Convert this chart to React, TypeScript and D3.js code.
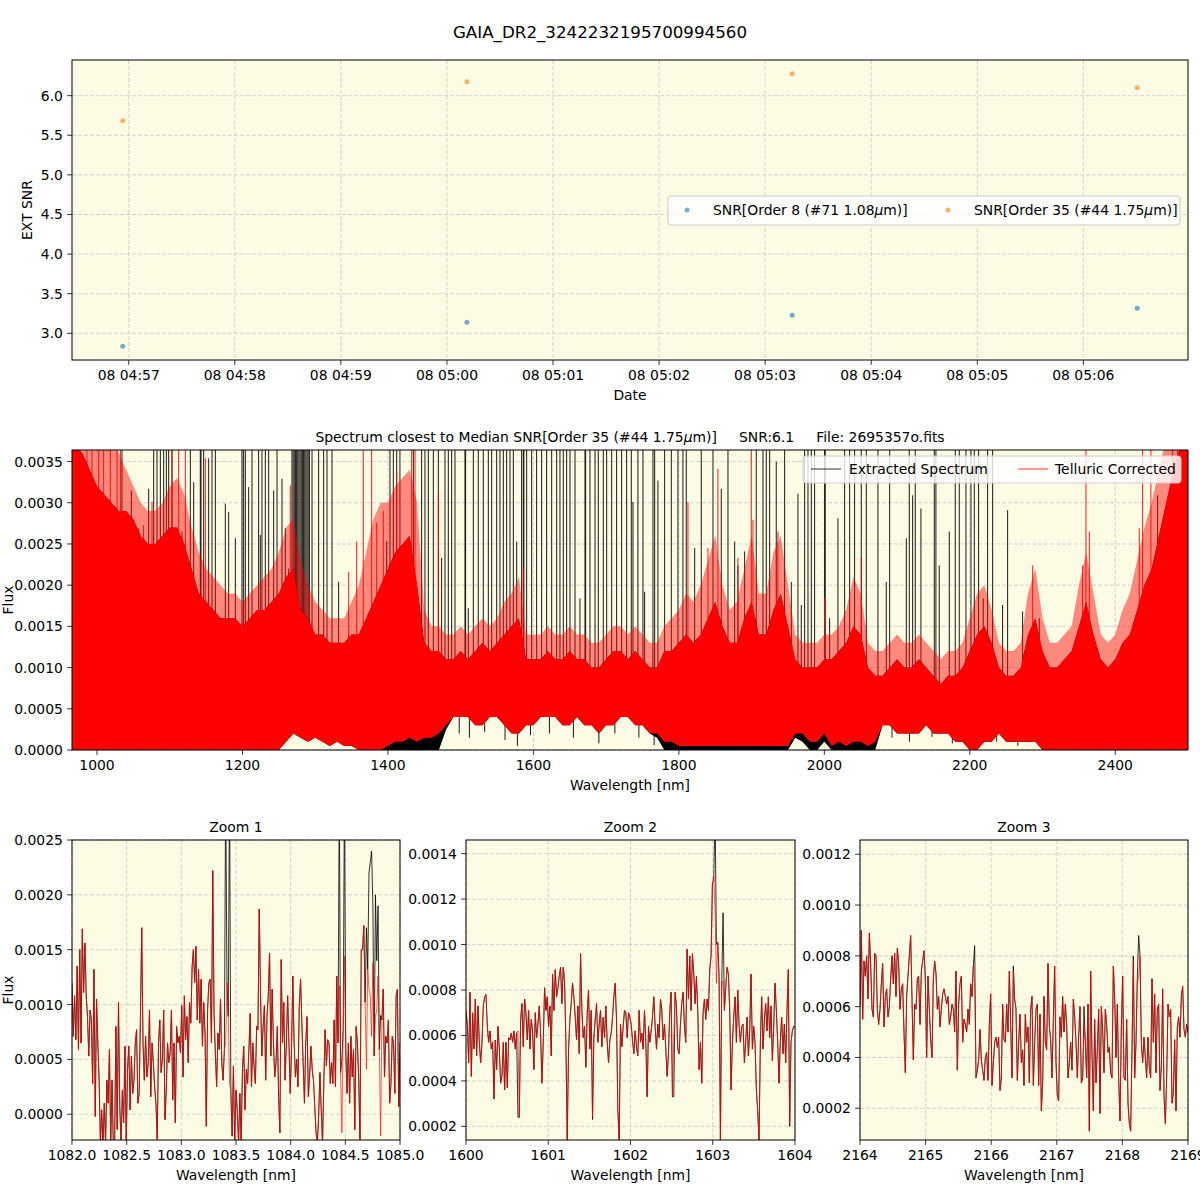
import React from "react";
import * as d3 from "d3";

const FONT = "'DejaVu Sans', sans-serif";
const AX_BG = "#fcfbe3";
const GRID = "#c9c9cf";
const FS = 13.9;

// ---------------- Top panel: SNR vs date ----------------
const obsTimes = [
  "2020-01-08T04:56:56.600Z",
  "2020-01-08T05:00:11.300Z",
  "2020-01-08T05:03:15.300Z",
  "2020-01-08T05:06:30.500Z",
];
const snrOrder8 = [2.835, 3.139, 3.228, 3.316];
const snrOrder35 = [5.684, 6.177, 6.278, 6.1];
const legendTop = ["SNR[Order 8 (#71 1.08", "SNR[Order 35 (#44 1.75"];

// ---------------- Middle panel: full spectrum (10 nm bins, flux x1e-4) ----------------
const specStart = 970;
const specStep = 10;
// solid top of the dense red band
const redTopE4 = [
  37, 36, 34, 32, 31, 30, 29, 29, 28, 26,
  25, 25, 26, 27, 27, 25, 22, 19, 18, 17,
  16, 16, 16, 15, 16, 17, 17, 18, 19, 21,
  22, 17, 16, 14, 14, 13, 13, 13, 14, 14,
  16, 18, 20, 22, 24, 25, 26, 20, 13, 12,
  12, 11, 11, 12, 11, 12, 13, 12, 13, 14,
  15, 16, 11, 11, 11, 12, 11, 11, 12, 11,
  11, 10, 10, 11, 12, 12, 11, 12, 11, 10,
  10, 12, 12, 13, 14, 13, 14, 16, 18, 15,
  13, 13, 16, 18, 14, 14, 17, 19, 15, 11,
  10, 10, 10, 11, 11, 12, 13, 15, 14, 10,
  9, 9, 10, 11, 10, 10, 11, 10, 9, 8,
  9, 9, 10, 12, 14, 15, 13, 10, 9, 9,
  10, 14, 16, 12, 10, 10, 11, 12, 15, 18,
  14, 11, 10, 11, 13, 14, 17, 20, 22, 26,
  30, 34, 37,
];
// top of the hairy red fringe above the solid band
const redFringeE4 = [
  40, 40, 40, 40, 40, 38, 36, 34, 32, 30,
  29, 29, 30, 32, 33, 31, 27, 24, 22, 21,
  20, 19, 19, 18, 19, 20, 21, 22, 24, 27,
  28, 23, 20, 18, 17, 16, 16, 16, 18, 20,
  24, 28, 30, 30, 32, 33, 34, 30, 17, 15,
  15, 14, 14, 15, 14, 15, 16, 15, 16, 18,
  19, 21, 14, 14, 14, 15, 14, 14, 15, 14,
  14, 13, 13, 14, 15, 15, 14, 15, 14, 13,
  13, 15, 16, 17, 19, 18, 20, 23, 26, 20,
  17, 18, 22, 26, 19, 19, 24, 26, 20, 14,
  13, 13, 13, 14, 14, 15, 17, 21, 19, 13,
  12, 12, 13, 14, 13, 13, 14, 13, 12, 11,
  12, 12, 13, 16, 19, 20, 17, 13, 12, 12,
  13, 19, 22, 16, 13, 13, 14, 15, 20, 24,
  19, 14, 13, 14, 17, 19, 23, 27, 30, 34,
  38, 40, 40,
];
const redBotE4 = [
  0, 0, 0, 0, 0, 0, 0, 0, 0, 0,
  0, 0, 0, 0, 0, 0, 0, 0, 0, 0,
  0, 0, 0, 0, 0, 0, 0, 0, 0, 1,
  2, 1.5, 1, 1.5, 1, 0.5, 1, 0.5, 0.5, 0,
  0, 0, 0, 0.5, 1, 1, 1.5, 1, 1.5, 1.5,
  2, 3, 4, 4, 4, 3, 3, 4, 4, 3,
  2, 2, 3, 3, 4, 4, 4, 3, 3, 4,
  3, 3, 2, 3, 3, 4, 4, 3, 3, 2,
  2, 1, 1, 0.5, 0.5, 0.5, 0.5, 0.5, 0.5, 0.5,
  0.5, 0.5, 0.5, 0.5, 0.5, 0.5, 0.5, 0.5, 0.5, 2,
  2, 1, 1, 2, 0.5, 1, 0.5, 1, 1, 0.5,
  1, 3, 3, 2, 2, 2, 2, 3, 2, 2,
  2, 1, 1, 0, 0, 1, 1, 2, 1, 1,
  1, 1, 1, 0, 0, 0, 0, 0, 0, 0,
  0, 0, 0, 0, 0, 0, 0, 0, 0, 0,
  0, 0, 0,
];
const blackBotE4 = [
  0, 0, 0, 0, 0, 0, 0, 0, 0, 0,
  0, 0, 0, 0, 0, 0, 0, 0, 0, 0,
  0, 0, 0, 0, 0, 0, 0, 0, 0, 1,
  2, 1.5, 1, 1.5, 1, 0.5, 1, 0.5, 0.5, 0,
  0, 0, 0, 0, 0, 0, 0, 0, 0, 0,
  0, 2.5, 4, 4, 4, 3, 3, 4, 4, 3,
  2, 2, 3, 3, 4, 4, 4, 3, 3, 4,
  3, 3, 2, 3, 3, 4, 4, 3, 3, 2,
  1.5, 0, 0, 0, 0, 0, 0, 0, 0, 0,
  0, 0, 0, 0, 0, 0, 0, 0, 0, 1.5,
  1, 0, 0, 1, 0, 0, 0, 0, 0, 0,
  0, 3, 3, 2, 2, 2, 2, 3, 2, 2,
  2, 1, 1, 0, 0, 1, 1, 2, 1, 1,
  1, 1, 1, 0, 0, 0, 0, 0, 0, 0,
  0, 0, 0, 0, 0, 0, 0, 0, 0, 0,
  0, 0, 0,
];
// isolated spikes [wavelength nm, flux x1e-4]
const blackSpikes: [number, number][] = [
  [995.4, 31.3], [1011.4, 29.3], [1034.3, 40], [1047.2, 31.5], [1057.3, 26.9], [1071.0, 31.7],
  [1077.9, 40], [1082.5, 40], [1087.1, 40], [1091.6, 40], [1095.3, 40], [1098.5, 40], [1103.1, 40],
  [1116.8, 26.5], [1128.3, 40], [1132.9, 32.5], [1142.0, 40], [1143.0, 40], [1146.6, 40], [1153.5, 35.4],
  [1158.1, 40], [1162.7, 40], [1176.4, 29.9], [1181.0, 28.9], [1190.2, 25.7], [1199.3, 40], [1201.6, 40],
  [1203.9, 40], [1208.5, 31.9], [1213.1, 40], [1222.2, 40], [1224.5, 26.1], [1226.8, 40], [1231.4, 40],
  [1236.0, 40], [1242.9, 31.5], [1247.5, 40], [1254.3, 32.9], [1258.9, 26.9], [1263.5, 22.0],
  [1295.6, 40], [1304.7, 40], [1311.6, 40], [1316.2, 40], [1323.1, 40], [1332.2, 20.4], [1346.0, 14.0],
  [1398.2, 25.3], [1402.8, 40], [1407.4, 40], [1412.0, 40], [1416.5, 40], [1421.1, 22.4], [1434.9, 40],
  [1446.3, 40], [1450.9, 40], [1455.5, 40], [1462.4, 40], [1469.3, 40], [1473.8, 23.3], [1478.4, 40],
  [1483.0, 40], [1487.6, 40], [1492.2, 40], [1505.9, 40], [1506.8, 40], [1510.5, 17.2], [1517.4, 40],
  [1524.2, 40], [1531.1, 40], [1538.0, 40], [1542.6, 40], [1549.5, 40], [1554.0, 40], [1558.6, 40],
  [1563.2, 40], [1567.8, 40], [1572.4, 40], [1577.0, 25.3], [1583.8, 40], [1586.1, 40], [1586.9, 40],
  [1590.7, 40], [1597.6, 40], [1604.4, 40], [1611.3, 40], [1618.2, 40], [1625.1, 40], [1632.0, 40],
  [1636.5, 40], [1641.1, 40], [1645.7, 40], [1650.3, 40], [1657.2, 40], [1664.0, 18.4], [1670.9, 40],
  [1671.8, 40], [1677.8, 40], [1684.7, 40], [1689.2, 40], [1696.1, 40], [1700.7, 40], [1707.6, 40],
  [1714.4, 40], [1721.3, 40], [1728.2, 40],
  [1734.6, 40], [1736.9, 30.1], [1743.7, 40], [1750.6, 40], [1752.9, 19.2], [1764.4, 40], [1766.7, 40],
  [1771.2, 32.7], [1780.4, 40], [1789.6, 40], [1798.7, 40], [1805.6, 40], [1810.2, 40], [1821.7, 24.5],
  [1830.8, 40], [1846.9, 40], [1858.3, 31.7], [1867.5, 40], [1876.7, 25.3], [1881.2, 22.4], [1890.4, 24.1],
  [1906.4, 40], [1915.6, 40], [1920.2, 40], [1924.8, 40], [1933.9, 35.0], [1945.4, 40], [1954.6, 20.4],
  [1963.7, 31.1], [1968.3, 17.6], [1972.9, 40], [1977.5, 40], [1982.1, 40], [1986.6, 40], [2000.4, 40],
  [2001.2, 40], [2007.3, 16.0], [2018.7, 28.1], [2027.9, 40], [2034.8, 40], [2041.6, 40], [2050.8, 40],
  [2057.7, 40], [2073.7, 40], [2085.2, 20.4], [2089.8, 40], [2112.7, 25.7],
  [2116.8, 40], [2121.4, 30.9], [2125.0, 40], [2132.8, 29.3], [2151.2, 40], [2153.4, 40], [2158.0, 22.4],
  [2171.8, 26.5], [2180.0, 40], [2185.5, 40], [2194.7, 40], [2201.6, 40], [2206.2, 40], [2212.1, 40],
  [2218.5, 18.4], [2224.5, 40], [2231.4, 40], [2245.1, 17.6], [2252.0, 29.1], [2272.6, 16.8],
  [2295.5, 16.0], [2458.2, 30.9], [2467.4, 28.1],
];
// low black dips that show beneath the red band [wavelength nm, flux x1e-4]
const blackDips: [number, number][] = [
  [1498, 2.0], [1512, 1.5], [1533, 2.2], [1561, 1.2], [1578, 0.5], [1596, 1.8], [1622, 2.0],
  [1655, 1.5], [1690, 0.8], [1712, 2.0], [1745, 1.5], [1766, 0.6], [2093, 1.5], [2117, 1.0],
  [2148, 1.6], [2176, 0.8], [2237, 1.0], [2266, 0.5],
];
const blackBands: [number, number][] = [[1268, 1292]];
const redSpikes: [number, number][] = [
  [986.2, 40], [993.1, 40], [1002.3, 40], [1009.1, 40], [1018.3, 40], [1027.5, 40], [1032.1, 40],
  [1064.0, 27.3], [1075.6, 30.1], [1103.1, 40], [1112.3, 40], [1121.4, 40], [1148.9, 35.4],
  [1265.8, 32.1], [1346.0, 21.6], [1357.0, 25.3], [1366.1, 40], [1377.6, 40], [1384.5, 27.6],
  [1393.6, 29.0], [1412.0, 33.7], [1432.6, 40], [1437.2, 40], [1469.3, 31.3], [1586.1, 22.0],
  [1812.5, 30.1], [1840.0, 24.5], [1853.7, 34.1], [1881.2, 23.3], [1899.6, 40], [1901.9, 27.9],
  [1936.2, 26.5], [2000.4, 18.4], [2050.8, 23.3], [2286.4, 22.4], [2355.1, 22.4], [2359.7, 40],
  [2364.3, 26.5], [2433.0, 26.9], [2437.6, 40], [2449.0, 40], [2478.8, 40], [2485.7, 40],
];

// ---------------- Zoom panels (flux x1e-4, uniformly sampled) ----------------
const zoom1Range: [number, number] = [1082, 1085];
const zoom1RedE4 = [
  12.0, 7.1, 10.8, 6.8, 13.5, 5.9, 15.0, 6.5, 16.9, 11.1,
  15.6, 10.8, 8.9, 5.3, 9.5, 8.6, 2.8, 13.2, -0.2, 10.5,
  6.5, 3.1, -2.7, 0.4, -2.7, 1.0, -2.7, 3.1, 1.0, 5.9,
  -2.7, 3.1, -2.7, -2.7, 8.0, -1.4, 10.2, 0.7, -2.7, 2.2,
  -0.8, 6.2, -2.7, 4.1, 6.2, 0.4, 5.3, 1.9, 3.1, 6.5,
  7.7, 1.0, 1.9, 8.9, 17.0, 6.5, 3.1, 7.1, 3.4, 4.7,
  9.5, 1.6, 6.5, 4.7, 2.5, 1.0, -2.3, 6.5, 8.6, 3.8,
  5.0, 9.5, -0.5, 2.2, 6.5, 4.7, 5.6, 9.5, 1.3, 6.5,
  -0.8, 8.0, 6.5, 7.1, 5.6, 9.9, 3.4, 10.8, 6.8, 8.9,
  4.7, 10.2, 8.3, 13.4, 15.0, 12.0, 15.3, 8.6, 13.2, 8.3,
  12.3, 6.2, 10.2, 7.4, -1.1, 9.5, 12.0, 12.3, 6.5, 22.2,
  9.2, 5.6, 2.5, 7.4, 5.9, 10.5, 4.7, 3.1, 5.9, 6.5,
  12.0, 8.9, 2.8, 2.2, -2.0, 4.4, -2.7, 2.2, 0.4, -2.7,
  1.9, -2.7, 4.1, 6.2, 0.4, 4.1, 2.8, 5.9, 9.2, 2.5,
  6.5, 4.4, 2.8, 8.0, 7.7, 18.7, 11.1, 5.3, 8.0, 9.9,
  3.1, 8.9, 10.8, 14.7, 5.3, 11.4, 6.5, 3.4, 4.7, 8.0,
  1.6, -1.7, 14.1, 6.5, 10.2, 3.1, 6.5, 10.8, 6.5, 1.9,
  5.9, 12.6, 6.5, 3.4, 5.0, 2.5, 9.9, 12.3, 8.3, 4.7,
  1.0, 6.5, 8.9, 1.6, 3.4, 6.2, 4.1, 3.1, 0.7, -1.7,
  -2.7, -0.2, 3.8, 0.4, -2.7, 2.8, 7.7, 4.4, 6.8, 6.5,
  2.8, 4.7, 2.8, 8.6, 2.5, 12.6, 6.5, 11.7, 3.8, -1.7,
  7.7, 14.4, 5.9, 1.9, 6.5, 1.0, 7.1, 3.4, 5.9, -1.4,
  8.0, 6.5, 3.4, -2.3, 15.0, 15.0, 17.2, 10.2, 4.1, 13.2,
  11.4, 10.8, 7.1, 13.8, 5.3, 8.9, 9.5, 12.6, 5.9, -2.0,
  8.6, 11.4, 3.4, 7.1, 6.5, 8.6, 1.0, 2.8, 7.1, 6.5,
  1.9, 10.8, 11.4, 0.7, 6.5,
];
const zoom1BlackDiff: [number, number][] = [
  [1083.407, 30], [1083.443, 30], [1084.45, 30], [1084.466, 5], [1084.487, 30],
  [1084.695, 17], [1084.716, 22], [1084.728, 23], [1084.743, 24], [1084.756, 19],
  [1084.771, 20], [1084.786, 14], [1084.798, 19], [1084.817, 9],
];

const zoom2Range: [number, number] = [1600, 1604];
const zoom2RedE4 = [
  7.1, 6.5, 4.8, 7.9, 4.2, 7.0, 5.4, 7.6, 5.1, 7.3,
  5.7, 4.8, 5.7, 7.3, 7.7, 7.8, 6.4, 5.7, 6.2, 5.4,
  5.7, 3.3, 5.8, 4.5, 6.4, 5.4, 3.9, 4.2, 5.7, 3.6,
  5.7, 3.7, 5.9, 5.8, 6.1, 5.7, 6.2, 5.4, 6.1, 6.2,
  2.4, 6.7, 7.4, 5.5, 7.6, 7.0, 5.8, 7.1, 5.4, 6.7,
  6.2, 4.5, 7.0, 5.9, 6.5, 7.3, 6.1, 3.9, 5.7, 8.1,
  7.1, 7.7, 6.4, 7.3, 5.1, 8.7, 7.1, 8.9, 7.7, 8.1,
  8.6, 9.0, 7.4, 9.0, 8.4, 5.7, 1.4, 5.4, 6.7, 7.4,
  8.3, 7.7, 6.8, 5.8, 7.3, 5.2, 9.6, 7.1, 5.9, 6.4,
  4.6, 7.0, 8.0, 5.4, 7.1, 2.4, 5.9, 6.7, 7.4, 5.7,
  6.5, 7.1, 5.5, 6.8, 5.9, 7.3, 5.7, 4.8, 5.8, 6.1,
  6.8, 7.7, 8.3, 6.7, 2.7, 1.4, 6.5, 5.5, 6.4, 7.1,
  7.0, 5.9, 7.0, 6.8, 6.5, 5.8, 5.2, 6.2, 5.5, 5.1,
  7.1, 5.7, 6.1, 5.4, 7.1, 5.7, 3.3, 6.4, 5.7, 6.2,
  6.8, 7.7, 6.4, 5.4, 6.5, 5.9, 7.6, 7.1, 5.8, 6.5,
  5.4, 4.2, 5.2, 7.1, 7.9, 3.3, 5.9, 7.9, 7.3, 5.4,
  5.2, 6.5, 7.4, 7.9, 6.4, 5.7, 9.8, 7.6, 9.5, 7.1,
  9.6, 8.7, 7.4, 8.6, 7.1, 4.5, 5.7, 3.9, 7.0, 7.6,
  6.7, 7.6, 7.1, 8.9, 9.5, 12.7, 13.0, 11.5, 8.3, 10.1,
  8.6, 1.4, 8.3, 8.4, 7.1, 8.1, 9.0, 8.7, 7.1, 3.6,
  5.7, 6.8, 7.7, 5.7, 8.0, 6.5, 5.7, 6.4, 6.5, 4.8,
  5.7, 6.8, 5.1, 6.2, 8.7, 5.4, 6.4, 5.7, 3.6, 2.7,
  1.4, 5.7, 7.7, 5.4, 6.7, 7.4, 6.2, 7.7, 5.9, 7.3,
  4.9, 6.4, 8.3, 7.1, 5.7, 3.9, 5.8, 6.8, 5.2, 6.5,
  4.8, 7.1, 8.9, 2.1, 5.7, 6.2, 6.4, 6.4,
];
const zoom2BlackDiff: [number, number][] = [
  [1603.011, 12.8], [1603.023, 16], [1603.035, 16], [1603.05, 10], [1603.121, 16], [1603.133, 11.4],
  [1600.342, 3.2], [1600.635, 2.4], [1601.546, 2.3], [1602.52, 3.3], [1603.94, 2.0],
];

const zoom3Range: [number, number] = [2164, 2169];
const zoom3RedE4 = [
  6.0, 9.0, 5.5, 7.8, 7.2, 8.0, 6.3, 8.9, 7.7, 5.9,
  5.6, 8.1, 8.0, 5.9, 5.3, 5.9, 6.9, 7.7, 5.2, 6.4,
  6.7, 5.6, 6.0, 7.1, 8.0, 6.9, 8.1, 6.4, 8.3, 7.7,
  5.9, 6.7, 6.9, 5.0, 3.4, 6.4, 7.2, 8.0, 8.8, 6.3,
  3.9, 6.1, 5.9, 7.1, 7.2, 5.3, 7.4, 7.8, 8.2, 7.1,
  4.0, 7.2, 5.9, 4.7, 4.0, 7.1, 7.8, 7.3, 5.9, 6.4,
  5.2, 5.9, 6.5, 6.7, 6.4, 6.1, 6.4, 5.3, 5.6, 6.1,
  5.9, 5.0, 7.4, 3.5, 6.1, 6.9, 7.2, 4.6, 5.5, 5.3,
  5.0, 5.9, 5.3, 6.9, 6.4, 7.6, 6.8, 3.2, 3.5, 3.9,
  5.1, 3.9, 3.5, 3.1, 4.0, 4.2, 3.1, 5.3, 6.5, 2.9,
  3.8, 4.6, 4.8, 4.4, 4.8, 2.7, 3.2, 6.1, 4.7, 4.6,
  6.1, 5.0, 7.4, 5.3, 3.2, 7.4, 6.3, 5.9, 3.1, 4.6,
  5.7, 3.8, 4.3, 2.9, 5.7, 4.6, 5.2, 3.0, 5.9, 6.4,
  2.9, 4.6, 5.9, 6.1, 2.9, 5.7, 1.9, 3.0, 6.4, 4.6,
  4.3, 7.7, 5.2, 4.7, 3.2, 5.5, 7.6, 3.8, 2.5, 2.3,
  5.6, 4.8, 6.4, 5.0, 6.1, 5.3, 3.2, 3.8, 4.6, 3.5,
  6.3, 5.6, 4.6, 3.2, 4.8, 6.0, 3.0, 3.2, 5.2, 4.6,
  3.2, 6.1, 1.1, 7.4, 4.2, 1.9, 5.5, 3.0, 4.3, 5.9,
  1.8, 6.0, 5.1, 3.4, 5.9, 5.3, 4.2, 4.4, 3.4, 3.2,
  7.6, 6.4, 4.0, 6.1, 3.2, 1.5, 5.2, 7.2, 3.2, 3.1,
  5.5, 2.2, 1.4, 1.1, 4.3, 7.8, 3.2, 4.6, 6.9, 7.2,
  8.0, 4.6, 3.8, 4.8, 4.0, 3.2, 4.8, 3.6, 3.2, 7.1,
  4.6, 6.5, 3.4, 5.9, 6.1, 2.7, 3.6, 6.7, 2.5, 1.4,
  3.2, 6.1, 5.6, 5.9, 2.2, 2.6, 4.7, 1.9, 5.2, 5.6,
  4.8, 6.4, 6.8, 5.1, 4.8, 5.3, 5.0,
];
const zoom3BlackDiff: [number, number][] = [
  [2165.748, 8.4], [2166.337, 7.6], [2167.415, 6.0], [2168.167, 8.0], [2168.228, 7.2], [2168.253, 8.8],
];

const E4 = 1e-4;

function withDiff(base: number[], range: [number, number], diff: [number, number][]) {
  const out = base.slice();
  const n = base.length;
  diff.forEach(([w, v]) => {
    const i = Math.round(((w - range[0]) / (range[1] - range[0])) * (n - 1));
    if (i >= 0 && i < n) out[i] = v;
  });
  return out;
}

type PanelProps = {
  id: string;
  x0: number; x1: number; y0: number; y1: number;
  xs: any; ys: any;
  xTicks: any[]; yTicks: number[];
  xFmt: (d: any) => string; yFmt: (d: number) => string;
  title?: React.ReactNode; xlabel?: string; ylabel?: string; ylabelX?: number;
  children?: React.ReactNode; overlay?: React.ReactNode;
};

function Panel(p: PanelProps) {
  const { x0, x1, y0, y1, xs, ys } = p;
  const tl = 4.9;
  return (
    <g>
      <defs>
        <clipPath id={p.id}>
          <rect x={x0} y={y0} width={x1 - x0} height={y1 - y0} />
        </clipPath>
      </defs>
      <rect x={x0} y={y0} width={x1 - x0} height={y1 - y0} fill={AX_BG} />
      <g stroke={GRID} strokeWidth={0.8} strokeDasharray="4,2">
        {p.xTicks.map((t, i) => (
          <line key={"gx" + i} x1={xs(t)} x2={xs(t)} y1={y0} y2={y1} />
        ))}
        {p.yTicks.map((t, i) => (
          <line key={"gy" + i} x1={x0} x2={x1} y1={ys(t)} y2={ys(t)} />
        ))}
      </g>
      <g clipPath={`url(#${p.id})`}>{p.children}</g>
      {p.overlay}
      <rect x={x0} y={y0} width={x1 - x0} height={y1 - y0} fill="none" stroke="#000" strokeWidth={1} />
      <g fontSize={FS} fill="#000">
        {p.xTicks.map((t, i) => (
          <g key={"tx" + i}>
            <line x1={xs(t)} x2={xs(t)} y1={y1} y2={y1 + tl} stroke="#000" strokeWidth={0.8} />
            <text x={xs(t)} y={y1 + tl + 4.9} dy="0.76em" textAnchor="middle">{p.xFmt(t)}</text>
          </g>
        ))}
        {p.yTicks.map((t, i) => (
          <g key={"ty" + i}>
            <line x1={x0 - tl} x2={x0} y1={ys(t)} y2={ys(t)} stroke="#000" strokeWidth={0.8} />
            <text x={x0 - tl - 4.2} y={ys(t)} dy="0.36em" textAnchor="end">{p.yFmt(t)}</text>
          </g>
        ))}
        {p.xlabel && (
          <text x={(x0 + x1) / 2} y={y1 + 40} textAnchor="middle">{p.xlabel}</text>
        )}
        {p.ylabel && (
          <text transform={`translate(${p.ylabelX},${(y0 + y1) / 2}) rotate(-90)`} textAnchor="middle">{p.ylabel}</text>
        )}
        {p.title && (
          <text x={(x0 + x1) / 2} y={y0 - 8} textAnchor="middle" style={{ whiteSpace: "pre" }}>{p.title}</text>
        )}
      </g>
    </g>
  );
}

function TopPanel() {
  const x0 = 72, x1 = 1188, y0 = 60, y1 = 360;
  const dates = obsTimes.map((s) => new Date(s));
  const [tMin, tMax] = d3.extent(dates) as [Date, Date];
  const span = +tMax - +tMin;
  const xs = d3.scaleUtc().domain([new Date(+tMin - 0.05 * span), new Date(+tMax + 0.05 * span)]).range([x0, x1]);
  const allV = [...snrOrder8, ...snrOrder35];
  const [vMin, vMax] = d3.extent(allV) as [number, number];
  const vs = vMax - vMin;
  const ys = d3.scaleLinear().domain([vMin - 0.05 * vs, vMax + 0.05 * vs]).range([y1, y0]);
  const xTicks = d3.utcMinute.every(1)!.range(xs.domain()[0], xs.domain()[1]);
  const yTicks = d3.range(3, 6.01, 0.5);
  const fmt = d3.utcFormat("%d %H:%M");
  const blue = "#1f77b4", orange = "#ff7f0e";
  const overlay = (
    <g fontSize={FS}>
      <rect x={668} y={196} width={512} height={29} rx={3} fill="#fff" fillOpacity={0.8} stroke="#cccccc" strokeWidth={1} />
      <circle cx={687} cy={210} r={2.5} fill={blue} fillOpacity={0.6} />
      <text x={713} y={215}>{legendTop[0]}<tspan fontStyle="italic">μ</tspan>m)]</text>
      <circle cx={948} cy={210} r={2.5} fill={orange} fillOpacity={0.6} />
      <text x={974} y={215}>{legendTop[1]}<tspan fontStyle="italic">μ</tspan>m)]</text>
    </g>
  );
  return (
    <Panel id="cp-top" x0={x0} x1={x1} y0={y0} y1={y1} xs={xs} ys={ys} xTicks={xTicks} yTicks={yTicks}
      xFmt={(d) => fmt(d)} yFmt={d3.format(".1f")} xlabel="Date" ylabel="EXT SNR" ylabelX={32} overlay={overlay}>
      {dates.map((d, i) => (
        <circle key={"b" + i} cx={xs(d)} cy={ys(snrOrder8[i])} r={2.5} fill={blue} fillOpacity={0.6} />
      ))}
      {dates.map((d, i) => (
        <circle key={"o" + i} cx={xs(d)} cy={ys(snrOrder35[i])} r={2.5} fill={orange} fillOpacity={0.6} />
      ))}
    </Panel>
  );
}

function MainSpectrum() {
  const x0 = 72, x1 = 1188, y0 = 450, y1 = 750;
  const xs = d3.scaleLinear().domain([965.6, 2500]).range([x0, x1]);
  const ys = d3.scaleLinear().domain([0, 0.00364]).range([y1, y0]);
  const n = redTopE4.length;
  const idx = d3.range(-1, n + 1).map((i) => Math.max(0, Math.min(n - 1, i)));
  const wlAt = (k: number) => specStart + (k - 1) * specStep; // k over extended index list
  const redArea = d3.area<number>()
    .x((_, k) => xs(wlAt(k)))
    .y0((i) => ys(redBotE4[i] * E4))
    .y1((i) => ys(redTopE4[i] * E4));
  const fringeArea = d3.area<number>()
    .x((_, k) => xs(wlAt(k)))
    .y0((i) => ys(redTopE4[i] * E4))
    .y1((i) => ys(redFringeE4[i] * E4));
  const blackArea = d3.area<number>()
    .x((_, k) => xs(wlAt(k)))
    .y0((i) => ys(blackBotE4[i] * E4))
    .y1((i) => ys(redTopE4[i] * E4));
  const base = ys(6 * E4);
  const overlay = (
    <g fontSize={FS}>
      <rect x={803} y={456} width={378} height={27} rx={3} fill="#fff" fillOpacity={0.8} stroke="#cccccc" strokeWidth={1} />
      <line x1={811} x2={841} y1={469} y2={469} stroke="#000" strokeWidth={0.8} />
      <text x={849} y={474}>Extracted Spectrum</text>
      <line x1={1018} x2={1048} y1={469} y2={469} stroke="red" strokeWidth={0.8} />
      <text x={1055} y={474}>Telluric Corrected</text>
    </g>
  );
  const bandPts = blackBands.flatMap(([a, b]) => d3.range(a, b + 0.01, 1.6));
  const title = (
    <>
      {"Spectrum closest to Median SNR[Order 35 (#44 1.75"}
      <tspan fontStyle="italic">μ</tspan>
      {"m)]     SNR:6.1     File: 2695357o.fits"}
    </>
  );
  return (
    <Panel id="cp-mid" x0={x0} x1={x1} y0={y0} y1={y1} xs={xs} ys={ys}
      xTicks={d3.range(1000, 2401, 200)} yTicks={d3.range(0, 0.00351, 0.0005)}
      xFmt={(d) => String(d)} yFmt={d3.format(".4f")} xlabel="Wavelength [nm]" ylabel="Flux" ylabelX={12.5}
      title={title} overlay={overlay}>
      <path d={blackArea(idx) || ""} fill="#000" />
      <g stroke="#000" strokeWidth={0.9}>
        {blackSpikes.map(([w, v], i) => (
          <line key={"bs" + i} x1={xs(w)} x2={xs(w)} y1={base} y2={ys(v * E4)} />
        ))}
        {bandPts.map((w, i) => (
          <line key={"bb" + i} x1={xs(w)} x2={xs(w)} y1={base} y2={y0} />
        ))}
        {blackDips.map(([w, v], i) => (
          <line key={"bd" + i} x1={xs(w)} x2={xs(w)} y1={base} y2={ys(v * E4)} />
        ))}
      </g>
      <path d={fringeArea(idx) || ""} fill="red" fillOpacity={0.45} />
      <path d={redArea(idx) || ""} fill="red" />
      <g stroke="red" strokeWidth={0.9}>
        {redSpikes.map(([w, v], i) => (
          <line key={"rs" + i} x1={xs(w)} x2={xs(w)} y1={base} y2={ys(v * E4)} />
        ))}
      </g>
    </Panel>
  );
}

function ZoomPanel(props: {
  id: string; x0: number; x1: number; title: string; range: [number, number];
  yDomain: [number, number]; red: number[]; diff: [number, number][];
  xFmt: (d: number) => string; xTicks: number[]; yTicks: number[]; ylabel?: string;
}) {
  const y0 = 840, y1 = 1140;
  const { x0, x1, range } = props;
  const xs = d3.scaleLinear().domain(range).range([x0, x1]);
  const ys = d3.scaleLinear().domain(props.yDomain).range([y1, y0]);
  const n = props.red.length;
  const wl = (i: number) => range[0] + (i * (range[1] - range[0])) / (n - 1);
  const black = withDiff(props.red, range, props.diff);
  const line = d3.line<number>().x((_, i) => xs(wl(i))).y((d) => ys(d * E4));
  return (
    <Panel id={props.id} x0={x0} x1={x1} y0={y0} y1={y1} xs={xs} ys={ys}
      xTicks={props.xTicks} yTicks={props.yTicks} xFmt={props.xFmt} yFmt={d3.format(".4f")}
      xlabel="Wavelength [nm]" ylabel={props.ylabel} ylabelX={12.5} title={props.title}>
      <path d={line(black) || ""} fill="none" stroke="#000" strokeWidth={0.8} />
      <path d={line(props.red) || ""} fill="none" stroke="red" strokeWidth={0.8} strokeOpacity={0.8} />
    </Panel>
  );
}

export default function App() {
  return (
    <svg width={1200} height={1200} style={{ position: "absolute", left: 0, top: 0, background: "#fff" }}
      fontFamily={FONT}>
      <rect x={0} y={0} width={1200} height={1200} fill="#fff" />
      <text x={600} y={38} textAnchor="middle" fontSize={16.7}>GAIA_DR2_3242232195700994560</text>
      <TopPanel />
      <MainSpectrum />
      <ZoomPanel id="cp-z1" x0={72} x1={400} title="Zoom 1" range={zoom1Range} yDomain={[-0.000235, 0.0025]}
        red={zoom1RedE4} diff={zoom1BlackDiff} xFmt={d3.format(".1f")} xTicks={d3.range(1082, 1085.01, 0.5)}
        yTicks={d3.range(0, 0.00251, 0.0005)} ylabel="Flux" />
      <ZoomPanel id="cp-z2" x0={466} x1={795} title="Zoom 2" range={zoom2Range} yDomain={[0.00014, 0.00146]}
        red={zoom2RedE4} diff={zoom2BlackDiff} xFmt={d3.format("d")} xTicks={d3.range(1600, 1604.01, 1)}
        yTicks={d3.range(0.0002, 0.00141, 0.0002)} />
      <ZoomPanel id="cp-z3" x0={860} x1={1188} title="Zoom 3" range={zoom3Range} yDomain={[0.0000752, 0.001256]}
        red={zoom3RedE4} diff={zoom3BlackDiff} xFmt={d3.format("d")} xTicks={d3.range(2164, 2169.01, 1)}
        yTicks={d3.range(0.0002, 0.00121, 0.0002)} />
    </svg>
  );
}
